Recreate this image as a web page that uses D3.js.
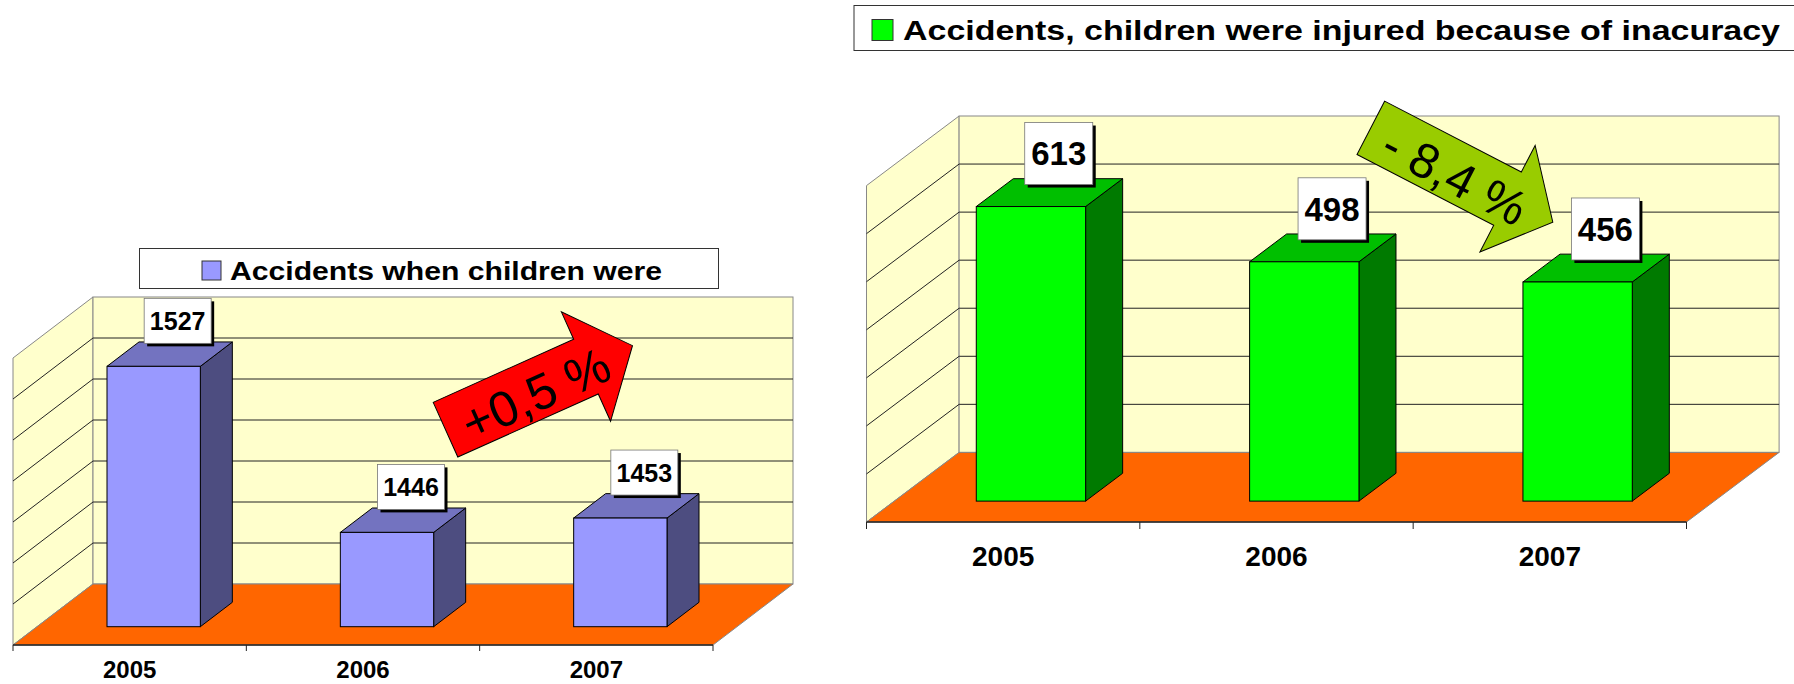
<!DOCTYPE html>
<meta charset="utf-8">
<script src="https://d3js.org/d3.v7.min.js"></script>
<style>
  body { margin: 0; background: #fff; }
  svg { display: block; font-family: "Liberation Sans", Arial, Helvetica, sans-serif; }
</style>
<div id="chart"></div>
<script>

// data
const years = ["2005", "2006", "2007"];
const accidentsAll = [1527, 1446, 1453];
const accidentsInaccuracy = [613, 498, 456];
const legendAll = "Accidents when children were";
const legendInaccuracy = "Accidents, children were injured because of inacuracy";
const changeAll = "+0,5 %";
const changeInaccuracy = "- 8,4 %";

const W = 1794, H = 684;

const svg = d3.select("#chart")
  .append("svg")
    .attr("width", W)
    .attr("height", H);

// one 3d column chart
function drawChart(o) {
  const g = svg.append("g");
  const x = d3.scaleBand().domain(years).range([o.x0, o.x1]);
  const h = d3.scaleLinear().domain(o.domain).range([0, o.wallH]);
  const band = x.bandwidth();
  const yBack = o.y0 - o.dy;
  const yTop = yBack - o.wallH;
  const xb0 = o.x0 + o.dx, xb1 = o.x1 + o.dx;
  const line = d3.line();

  // left wall
  g.append("path")
    .attr("d", line([[o.x0, o.y0], [xb0, yBack], [xb0, yTop], [o.x0, yTop + o.dy]]) + "Z")
    .attr("fill", "#FFFFCC").attr("stroke", "#888").attr("stroke-width", 1);
  // back wall
  g.append("rect")
    .attr("x", xb0).attr("y", yTop)
    .attr("width", xb1 - xb0).attr("height", o.wallH)
    .attr("fill", "#FFFFCC").attr("stroke", "#888").attr("stroke-width", 1);

  // gridlines
  const ticks = h.ticks(7).filter(t => t > o.domain[0] && t < o.domain[1]);
  ticks.forEach(t => {
    const yv = yBack - h(t);
    g.append("line")
      .attr("x1", xb0).attr("x2", xb1).attr("y1", yv).attr("y2", yv)
      .attr("stroke", "#222").attr("stroke-width", 1);
    g.append("line")
      .attr("x1", o.x0).attr("y1", yv + o.dy).attr("x2", xb0).attr("y2", yv)
      .attr("stroke", "#222").attr("stroke-width", 1);
  });

  // floor
  g.append("path")
    .attr("d", line([[o.x0, o.y0], [o.x1, o.y0], [xb1, yBack], [xb0, yBack]]) + "Z")
    .attr("fill", "#FF6600").attr("stroke", "#888").attr("stroke-width", 1);

  // category axis on the front edge
  g.append("line")
    .attr("x1", o.x0).attr("x2", o.x1).attr("y1", o.y0).attr("y2", o.y0)
    .attr("stroke", "#222").attr("stroke-width", 1.5);
  [o.x0].concat(years.map(d => x(d) + band)).forEach(tx => {
    g.append("line")
      .attr("x1", tx).attr("x2", tx).attr("y1", o.y0).attr("y2", o.y0 + o.tickLen)
      .attr("stroke", "#222").attr("stroke-width", 1);
  });
  g.selectAll(".cat")
    .data(years)
    .join("text")
      .attr("x", d => x(d) + band / 2)
      .attr("y", o.catY)
      .attr("text-anchor", "middle")
      .style("font-weight", "bold")
      .style("font-size", o.catSize + "px")
      .text(d => d);

  // bars
  const w = 0.4 * band, bdx = 0.4 * o.dx, bdy = 0.4 * o.dy;
  o.values.forEach((v, i) => {
    const cx = x(years[i]) + band / 2 + 0.3 * o.dx;
    const fl = cx - w / 2, fr = cx + w / 2;
    const fb = o.y0 - 0.3 * o.dy;
    const ft = fb - h(v);
    g.append("path")
      .attr("d", line([[fr, ft], [fr + bdx, ft - bdy], [fr + bdx, fb - bdy], [fr, fb]]) + "Z")
      .attr("fill", o.side).attr("stroke", "#000").attr("stroke-width", 1);
    g.append("path")
      .attr("d", line([[fl, ft], [fr, ft], [fr + bdx, ft - bdy], [fl + bdx, ft - bdy]]) + "Z")
      .attr("fill", o.top).attr("stroke", "#000").attr("stroke-width", 1);
    g.append("rect")
      .attr("x", fl).attr("y", ft).attr("width", w).attr("height", h(v))
      .attr("fill", o.front).attr("stroke", "#000").attr("stroke-width", 1);

    // value label
    const lx = cx + 0.75 * bdx - o.boxW / 2;
    const ly = ft - o.labelGap - o.boxH;
    g.append("rect")
      .attr("x", lx + 3).attr("y", ly + 3).attr("width", o.boxW).attr("height", o.boxH)
      .attr("fill", "#000");
    g.append("rect")
      .attr("x", lx).attr("y", ly).attr("width", o.boxW).attr("height", o.boxH)
      .attr("fill", "#fff").attr("stroke", "#777").attr("stroke-width", 0.8);
    g.append("text")
      .attr("x", lx + o.boxW / 2)
      .attr("y", ly + o.boxH / 2 + 0.358 * o.valSize)
      .attr("text-anchor", "middle")
      .style("font-weight", "bold")
      .style("font-size", o.valSize + "px")
      .text(v);
  });

  // legend
  const L = o.legend;
  g.append("rect")
    .attr("x", L.x).attr("y", L.y).attr("width", L.w).attr("height", L.h)
    .attr("fill", "#fff").attr("stroke", "#333").attr("stroke-width", 1);
  g.append("rect")
    .attr("x", L.sx).attr("y", L.sy).attr("width", L.s).attr("height", L.s)
    .attr("fill", o.front).attr("stroke", "#333").attr("stroke-width", 1);
  g.append("text")
    .attr("x", L.tx).attr("y", L.ty)
    .attr("textLength", L.tw).attr("lengthAdjust", "spacingAndGlyphs")
    .style("font-weight", "bold")
    .style("font-size", L.size + "px")
    .text(L.text);

  // change arrow
  const A = o.arrow;
  const ag = g.append("g")
    .attr("transform", `translate(${A.x},${A.y}) rotate(${A.angle})`);
  ag.append("path")
    .attr("d", line([[0, -30], [154, -30], [154, -60], [205, 0], [154, 60], [154, 30], [0, 30]]) + "Z")
    .attr("fill", A.fill).attr("stroke", "#000").attr("stroke-width", 1);
  ag.append("text")
    .attr("x", 97).attr("y", 4 + 0.358 * A.size)
    .attr("text-anchor", "middle")
    .style("font-size", A.size + "px")
    .text(A.text);
}

drawChart({
  values: accidentsAll, domain: [1400, 1540],
  x0: 13, x1: 713, y0: 645, dx: 80, dy: 61, wallH: 287,
  front: "#9999FF", top: "#7373C0", side: "#4D4D80",
  tickLen: 6, catY: 678, catSize: 24,
  boxW: 67, boxH: 45, labelGap: 23, valSize: 25,
  legend: { x: 139.5, y: 248.5, w: 579, h: 40, sx: 202, sy: 261, s: 19,
            tx: 230, ty: 279.5, tw: 432, size: 26, text: legendAll },
  arrow: { x: 445.5, y: 429.7, angle: -24.2, fill: "#FF0000", size: 50, text: changeAll }
});

drawChart({
  values: accidentsInaccuracy, domain: [0, 700],
  x0: 866.5, x1: 1686.5, y0: 522, dx: 92.6, dy: 69.6, wallH: 336.4,
  front: "#00FF00", top: "#00BF00", side: "#007A00",
  tickLen: 7, catY: 566, catSize: 28,
  boxW: 68, boxH: 62, labelGap: 22, valSize: 33,
  legend: { x: 854, y: 5.5, w: 960, h: 45, sx: 872, sy: 19.5, s: 21,
            tx: 903, ty: 39.5, tw: 877, size: 27, text: legendInaccuracy },
  arrow: { x: 1370.8, y: 127.8, angle: 27.4, fill: "#99CC00", size: 49, text: changeInaccuracy }
});

</script>
